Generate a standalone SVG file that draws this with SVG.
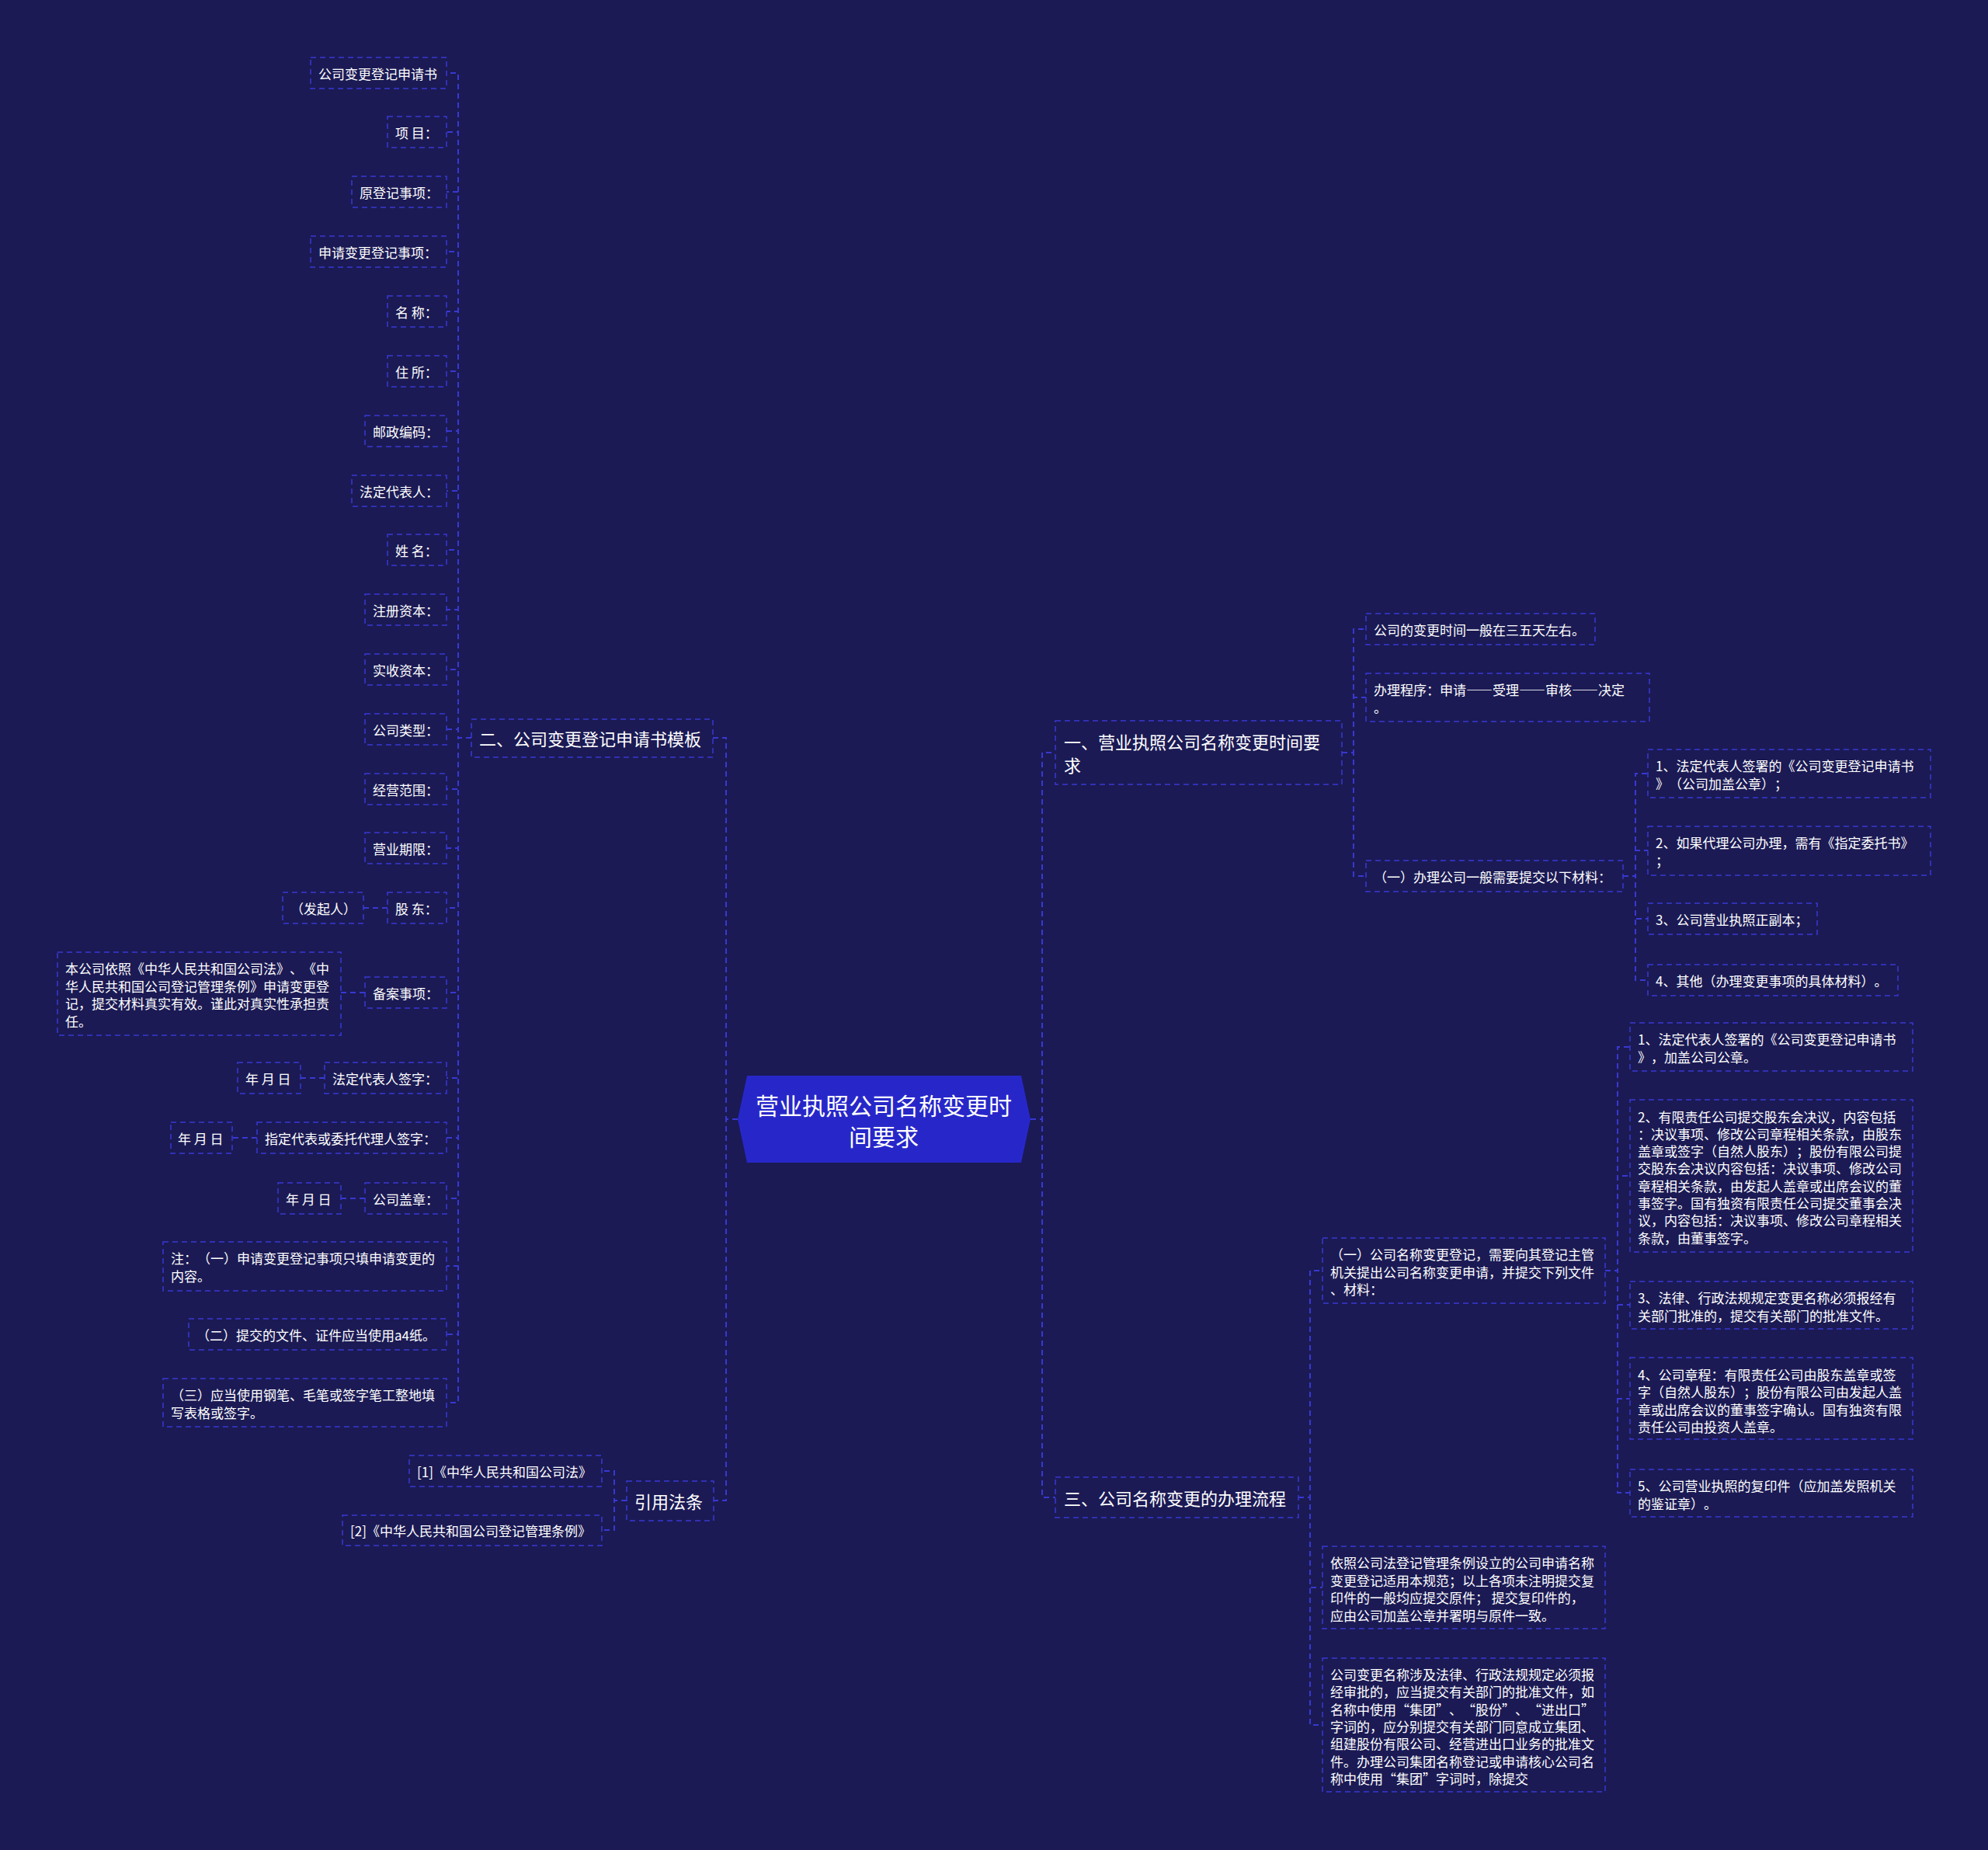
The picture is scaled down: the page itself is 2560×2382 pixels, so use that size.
<svg xmlns="http://www.w3.org/2000/svg" width="2560" height="2382" viewBox="0 0 2560 2382">
<style>
.bg{fill:#1b1a54}
.box{fill:#1b1a54;stroke:#3838d2;stroke-width:1.5;stroke-dasharray:7 5}
.c{fill:none;stroke:#3838d2;stroke-width:2;stroke-dasharray:7 5}
text{text-spacing-trim:space-all}
.t{font-family:"Noto Sans CJK SC","Noto Sans",sans-serif;font-size:17px;fill:#ffffff;dominant-baseline:central}
.t2{font-family:"Noto Sans CJK SC","Noto Sans",sans-serif;font-size:22px;fill:#ffffff;dominant-baseline:central}
.t3{font-family:"Noto Sans CJK SC","Noto Sans",sans-serif;font-size:30px;fill:#ffffff;dominant-baseline:central;text-anchor:middle}
.fw{font-feature-settings:"fwid" 1}
.root{fill:#2727c9}
</style>
<rect class="bg" x="0" y="0" width="2560" height="2382"/>

<g id="connectors">
<path class="c" d="M950 1441 H935 V950 H918"/>
<path class="c" d="M950 1441 H935 V1932 H919"/>
<path class="c" d="M1327 1441 H1342 V969 H1359"/>
<path class="c" d="M1327 1441 H1342 V1928 H1359"/>
<path class="c" d="M607 950 H590 V94 H575"/>
<path class="c" d="M607 950 H590 V170 H575"/>
<path class="c" d="M607 950 H590 V247 H575"/>
<path class="c" d="M607 950 H590 V324 H575"/>
<path class="c" d="M607 950 H590 V401 H575"/>
<path class="c" d="M607 950 H590 V478 H575"/>
<path class="c" d="M607 950 H590 V555 H575"/>
<path class="c" d="M607 950 H590 V632 H575"/>
<path class="c" d="M607 950 H590 V708 H575"/>
<path class="c" d="M607 950 H590 V785 H575"/>
<path class="c" d="M607 950 H590 V862 H575"/>
<path class="c" d="M607 950 H590 V939 H575"/>
<path class="c" d="M607 950 H590 V1016 H575"/>
<path class="c" d="M607 950 H590 V1092 H575"/>
<path class="c" d="M607 950 H590 V1169 H575"/>
<path class="c" d="M607 950 H590 V1278 H575"/>
<path class="c" d="M607 950 H590 V1388 H575"/>
<path class="c" d="M607 950 H590 V1465 H575"/>
<path class="c" d="M607 950 H590 V1543 H575"/>
<path class="c" d="M607 950 H590 V1630 H575"/>
<path class="c" d="M607 950 H590 V1718 H575"/>
<path class="c" d="M607 950 H590 V1806 H575"/>
<path class="c" d="M499 1169 H468"/>
<path class="c" d="M470 1278 H439"/>
<path class="c" d="M418 1388 H387"/>
<path class="c" d="M331 1465 H299"/>
<path class="c" d="M470 1543 H439"/>
<path class="c" d="M807 1932 H791 V1894 H775"/>
<path class="c" d="M807 1932 H791 V1970 H775"/>
<path class="c" d="M1728 969 H1743 V810 H1759"/>
<path class="c" d="M1728 969 H1743 V898 H1759"/>
<path class="c" d="M1728 969 H1743 V1128 H1759"/>
<path class="c" d="M2090 1128 H2106 V996 H2122"/>
<path class="c" d="M2090 1128 H2106 V1095 H2122"/>
<path class="c" d="M2090 1128 H2106 V1183 H2122"/>
<path class="c" d="M2090 1128 H2106 V1262 H2122"/>
<path class="c" d="M1672 1928 H1687 V1636 H1703"/>
<path class="c" d="M1672 1928 H1687 V2044 H1703"/>
<path class="c" d="M1672 1928 H1687 V2221 H1703"/>
<path class="c" d="M2067 1636 H2083 V1348 H2099"/>
<path class="c" d="M2067 1636 H2083 V1514 H2099"/>
<path class="c" d="M2067 1636 H2083 V1680 H2099"/>
<path class="c" d="M2067 1636 H2083 V1801 H2099"/>
<path class="c" d="M2067 1636 H2083 V1922 H2099"/>
</g>

<g id="root">
<polygon class="root" points="962,1385 1315,1385 1327,1441 1315,1497 962,1497 950,1441"/>
<text class="t3" x="1138" y="1422">营业执照公司名称变更时</text>
<text class="t3" x="1138" y="1462">间要求</text>
</g>

<g id="n-er"><rect class="box" x="607" y="926" width="311" height="49"/><text class="t2" x="617" y="950">二、公司变更登记申请书模板</text></g>
<g id="n-yinyong"><rect class="box" x="807" y="1907" width="112" height="51"/><text class="t2" x="817" y="1932">引用法条</text></g>
<g id="n-yi"><rect class="box" x="1359" y="928" width="369" height="82"/><text class="t2" x="1370"><tspan x="1370" y="954">一、营业执照公司名称变更时间要</tspan><tspan x="1370" y="984">求</tspan></text></g>
<g id="n-san"><rect class="box" x="1359" y="1902" width="313" height="52"/><text class="t2" x="1370" y="1928">三、公司名称变更的办理流程</text></g>

<g id="n-l0"><rect class="box" x="400" y="74" width="175" height="40"/><text class="t" x="410" y="94">公司变更登记申请书</text></g>
<g id="n-l1"><rect class="box" x="499" y="150" width="76" height="40"/><text class="t" x="509" y="170">项 目：</text></g>
<g id="n-l2"><rect class="box" x="453" y="227" width="122" height="40"/><text class="t" x="463" y="247">原登记事项：</text></g>
<g id="n-l3"><rect class="box" x="400" y="304" width="175" height="40"/><text class="t" x="410" y="324">申请变更登记事项：</text></g>
<g id="n-l4"><rect class="box" x="499" y="381" width="76" height="40"/><text class="t" x="509" y="401">名 称：</text></g>
<g id="n-l5"><rect class="box" x="499" y="458" width="76" height="40"/><text class="t" x="509" y="478">住 所：</text></g>
<g id="n-l6"><rect class="box" x="470" y="535" width="105" height="40"/><text class="t" x="480" y="555">邮政编码：</text></g>
<g id="n-l7"><rect class="box" x="453" y="612" width="122" height="40"/><text class="t" x="463" y="632">法定代表人：</text></g>
<g id="n-l8"><rect class="box" x="499" y="688" width="76" height="40"/><text class="t" x="509" y="708">姓 名：</text></g>
<g id="n-l9"><rect class="box" x="470" y="765" width="105" height="40"/><text class="t" x="480" y="785">注册资本：</text></g>
<g id="n-l10"><rect class="box" x="470" y="842" width="105" height="40"/><text class="t" x="480" y="862">实收资本：</text></g>
<g id="n-l11"><rect class="box" x="470" y="919" width="105" height="40"/><text class="t" x="480" y="939">公司类型：</text></g>
<g id="n-l12"><rect class="box" x="470" y="996" width="105" height="40"/><text class="t" x="480" y="1016">经营范围：</text></g>
<g id="n-l13"><rect class="box" x="470" y="1072" width="105" height="40"/><text class="t" x="480" y="1092">营业期限：</text></g>
<g id="n-l14"><rect class="box" x="499" y="1149" width="76" height="40"/><text class="t" x="509" y="1169">股 东：</text></g>
<g id="n-l14a"><rect class="box" x="364" y="1149" width="104" height="40"/><text class="t" x="374" y="1169">（发起人）</text></g>
<g id="n-l15"><rect class="box" x="470" y="1258" width="105" height="40"/><text class="t" x="480" y="1278">备案事项：</text></g>
<g id="n-l15a"><rect class="box" x="74" y="1226" width="365" height="107"/><text class="t"><tspan x="84" y="1246">本公司依照《中华人民共和国公司法》、《中</tspan><tspan x="84" y="1268.5">华人民共和国公司登记管理条例》申请变更登</tspan><tspan x="84" y="1291">记，提交材料真实有效。谨此对真实性承担责</tspan><tspan x="84" y="1313.5">任。</tspan></text></g>
<g id="n-l16"><rect class="box" x="418" y="1368" width="157" height="40"/><text class="t" x="428" y="1388">法定代表人签字：</text></g>
<g id="n-l16a"><rect class="box" x="306" y="1368" width="81" height="40"/><text class="t" x="316" y="1388">年 月 日</text></g>
<g id="n-l17"><rect class="box" x="331" y="1445" width="244" height="40"/><text class="t" x="341" y="1465">指定代表或委托代理人签字：</text></g>
<g id="n-l17a"><rect class="box" x="220" y="1445" width="79" height="40"/><text class="t" x="229" y="1465">年 月 日</text></g>
<g id="n-l18"><rect class="box" x="470" y="1523" width="105" height="40"/><text class="t" x="480" y="1543">公司盖章：</text></g>
<g id="n-l18a"><rect class="box" x="358" y="1523" width="81" height="40"/><text class="t" x="368" y="1543">年 月 日</text></g>
<g id="n-l19"><rect class="box" x="210" y="1599" width="365" height="63"/><text class="t"><tspan x="220" y="1619">注：（一）申请变更登记事项只填申请变更的</tspan><tspan x="220" y="1641.5">内容。</tspan></text></g>
<g id="n-l20"><rect class="box" x="243" y="1698" width="332" height="40"/><text class="t" x="253" y="1718">（二）提交的文件、证件应当使用a4纸。</text></g>
<g id="n-l21"><rect class="box" x="210" y="1775" width="365" height="62"/><text class="t"><tspan x="220" y="1795">（三）应当使用钢笔、毛笔或签字笔工整地填</tspan><tspan x="220" y="1817.5">写表格或签字。</tspan></text></g>

<g id="n-ref1"><rect class="box" x="527" y="1874" width="248" height="40"/><text class="t" x="537" y="1894">[1]《中华人民共和国公司法》</text></g>
<g id="n-ref2"><rect class="box" x="441" y="1951" width="334" height="39"/><text class="t" x="451" y="1970">[2]《中华人民共和国公司登记管理条例》</text></g>

<g id="n-r1"><rect class="box" x="1759" y="790" width="295" height="40"/><text class="t" x="1769" y="810">公司的变更时间一般在三五天左右。</text></g>
<g id="n-r2"><rect class="box" x="1759" y="867" width="365" height="62"/><text class="t"><tspan class="fw" x="1769" y="887">办理程序：申请——受理——审核——决定</tspan><tspan x="1769" y="909.5">。</tspan></text></g>
<g id="n-r3"><rect class="box" x="1759" y="1108" width="331" height="40"/><text class="t" x="1769" y="1128">（一）办理公司一般需要提交以下材料：</text></g>
<g id="n-r3a"><rect class="box" x="2122" y="965" width="364" height="62"/><text class="t"><tspan x="2132" y="985">1、法定代表人签署的《公司变更登记申请书</tspan><tspan x="2132" y="1007.5">》（公司加盖公章）；</tspan></text></g>
<g id="n-r3b"><rect class="box" x="2122" y="1064" width="364" height="63"/><text class="t"><tspan x="2132" y="1084">2、如果代理公司办理，需有《指定委托书》</tspan><tspan x="2132" y="1106.5">；</tspan></text></g>
<g id="n-r3c"><rect class="box" x="2122" y="1163" width="218" height="40"/><text class="t" x="2132" y="1183">3、公司营业执照正副本；</text></g>
<g id="n-r3d"><rect class="box" x="2122" y="1242" width="322" height="40"/><text class="t" x="2132" y="1262">4、其他（办理变更事项的具体材料）。</text></g>

<g id="n-s1"><rect class="box" x="1703" y="1594" width="364" height="84"/><text class="t"><tspan x="1713" y="1614">（一）公司名称变更登记，需要向其登记主管</tspan><tspan x="1713" y="1636.5">机关提出公司名称变更申请，并提交下列文件</tspan><tspan x="1713" y="1659">、材料：</tspan></text></g>
<g id="n-s2"><rect class="box" x="1703" y="1991" width="364" height="106"/><text class="t"><tspan x="1713" y="2011">依照公司法登记管理条例设立的公司申请名称</tspan><tspan x="1713" y="2033.5">变更登记适用本规范；以上各项未注明提交复</tspan><tspan x="1713" y="2056">印件的一般均应提交原件； 提交复印件的，</tspan><tspan x="1713" y="2078.5">应由公司加盖公章并署明与原件一致。</tspan></text></g>
<g id="n-s3"><rect class="box" x="1703" y="2135" width="364" height="172"/><text class="t"><tspan x="1713" y="2155">公司变更名称涉及法律、行政法规规定必须报</tspan><tspan x="1713" y="2177.3">经审批的，应当提交有关部门的批准文件，如</tspan><tspan x="1713" y="2199.6">名称中使用“集团”、“股份”、“进出口”</tspan><tspan x="1713" y="2221.9">字词的，应分别提交有关部门同意成立集团、</tspan><tspan x="1713" y="2244.2">组建股份有限公司、经营进出口业务的批准文</tspan><tspan x="1713" y="2266.5">件。办理公司集团名称登记或申请核心公司名</tspan><tspan x="1713" y="2288.8">称中使用“集团”字词时，除提交</tspan></text></g>

<g id="n-s1a"><rect class="box" x="2099" y="1317" width="364" height="62"/><text class="t"><tspan x="2109" y="1337">1、法定代表人签署的《公司变更登记申请书</tspan><tspan x="2109" y="1359.5">》，加盖公司公章。</tspan></text></g>
<g id="n-s1b"><rect class="box" x="2099" y="1416" width="364" height="196"/><text class="t"><tspan x="2109" y="1436.5">2、有限责任公司提交股东会决议，内容包括</tspan><tspan x="2109" y="1458.8">：决议事项、修改公司章程相关条款，由股东</tspan><tspan x="2109" y="1481.1">盖章或签字（自然人股东）；股份有限公司提</tspan><tspan x="2109" y="1503.4">交股东会决议内容包括：决议事项、修改公司</tspan><tspan x="2109" y="1525.7">章程相关条款，由发起人盖章或出席会议的董</tspan><tspan x="2109" y="1548">事签字。国有独资有限责任公司提交董事会决</tspan><tspan x="2109" y="1570.3">议，内容包括：决议事项、修改公司章程相关</tspan><tspan x="2109" y="1592.6">条款，由董事签字。</tspan></text></g>
<g id="n-s1c"><rect class="box" x="2099" y="1650" width="364" height="61"/><text class="t"><tspan x="2109" y="1670">3、法律、行政法规规定变更名称必须报经有</tspan><tspan x="2109" y="1692.5">关部门批准的，提交有关部门的批准文件。</tspan></text></g>
<g id="n-s1d"><rect class="box" x="2099" y="1748" width="364" height="105"/><text class="t"><tspan x="2109" y="1769">4、公司章程：有限责任公司由股东盖章或签</tspan><tspan x="2109" y="1791.3">字（自然人股东）；股份有限公司由发起人盖</tspan><tspan x="2109" y="1813.6">章或出席会议的董事签字确认。国有独资有限</tspan><tspan x="2109" y="1835.9">责任公司由投资人盖章。</tspan></text></g>
<g id="n-s1e"><rect class="box" x="2099" y="1892" width="364" height="61"/><text class="t"><tspan x="2109" y="1912">5、公司营业执照的复印件（应加盖发照机关</tspan><tspan x="2109" y="1934.5">的鉴证章）。</tspan></text></g>
</svg>
